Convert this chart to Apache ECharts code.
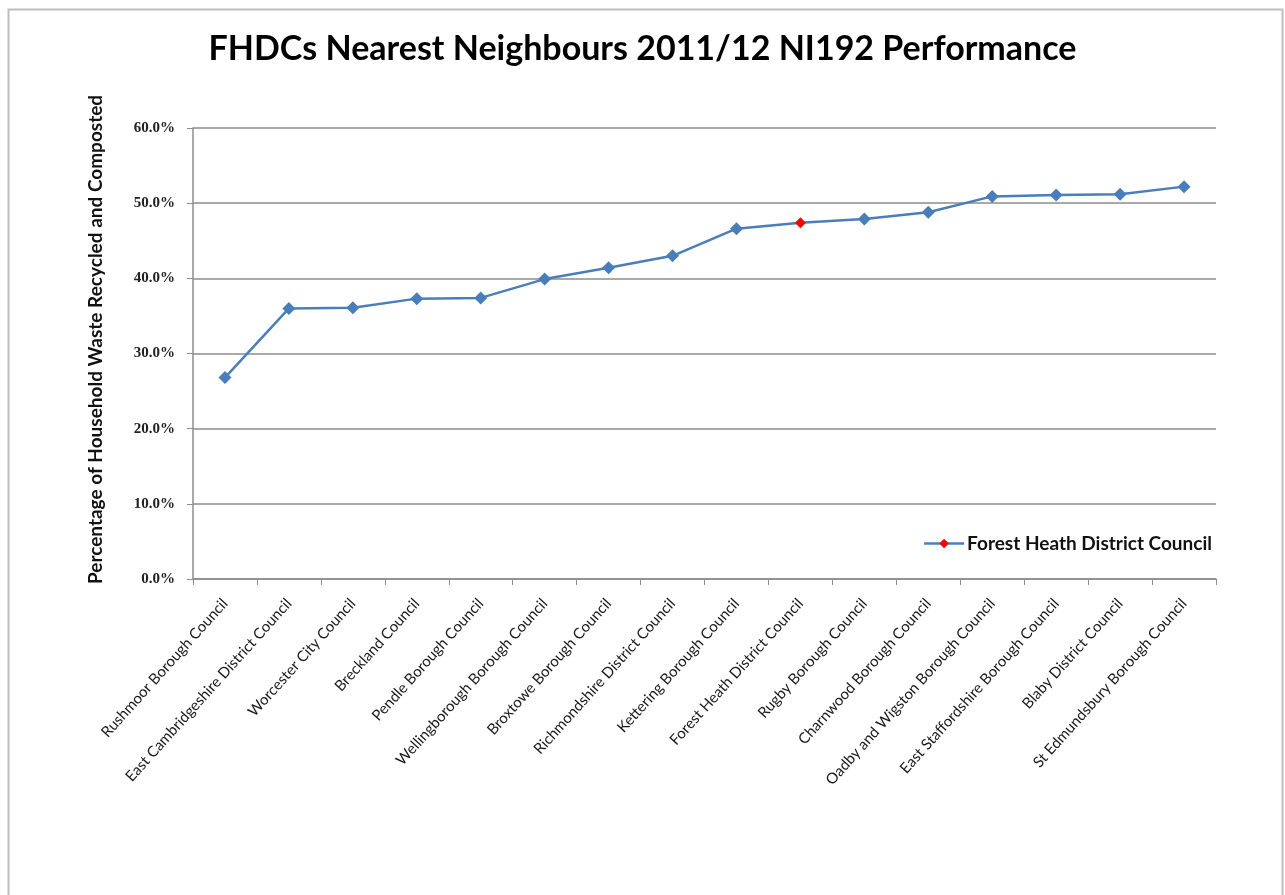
<!DOCTYPE html>
<html>
<head>
<meta charset="utf-8">
<script src="https://cdn.jsdelivr.net/npm/echarts@6/dist/echarts.min.js"></script>
<style>html,body{margin:0;padding:0;background:#fff;}#c{width:1285px;height:895px;}</style>
</head>
<body>
<div id="c"></div>
<script>
const categories = [
  "Rushmoor Borough Council",
  "East Cambridgeshire District Council",
  "Worcester City Council",
  "Breckland Council",
  "Pendle Borough Council",
  "Wellingborough Borough Council",
  "Broxtowe Borough Council",
  "Richmondshire District Council",
  "Kettering Borough Council",
  "Forest Heath District Council",
  "Rugby Borough Council",
  "Charnwood Borough Council",
  "Oadby and Wigston Borough Council",
  "East Staffordshire Borough Council",
  "Blaby District Council",
  "St Edmundsbury Borough Council"
];
const values = [26.8, 36.0, 36.1, 37.3, 37.4, 39.9, 41.4, 43.0, 46.6, 47.4, 47.9, 48.8, 50.9, 51.1, 51.2, 52.2];
const highlightName = "Forest Heath District Council";
const yTicks = [0, 10, 20, 30, 40, 50, 60];
const titleText = "FHDCs Nearest Neighbours 2011/12 NI192 Performance";
const yAxisTitle = "Percentage of Household Waste Recycled and Composted";

const blue = '#4a7ebb';
const red = '#ff0000';
const chart = echarts.init(document.getElementById('c'), null, {renderer: 'canvas'});
const seriesData = values.map((v, i) => categories[i] === highlightName
  ? {value: v, itemStyle: {color: red}, symbolSize: 11}
  : {value: v});

chart.setOption({
  backgroundColor: '#fff',
  animation: false,
  graphic: [{
    type: 'rect', left: 6, top: 7, shape: {width: 1274, height: 900},
    style: {fill: 'none', stroke: '#bdbdbd', lineWidth: 2}, silent: true
  }],
  title: {
    text: titleText, left: 'center', top: 27,
    textStyle: {fontFamily: 'Lato', fontWeight: 'bold', fontSize: 34, color: '#000'}
  },
  legend: {
    right: 68, top: 529, itemWidth: 40, itemHeight: 12, itemGap: 4,
    data: [{name: highlightName, itemStyle: {color: red}, lineStyle: {color: blue, width: 2.5}}],
    textStyle: {fontFamily: 'Lato', fontWeight: 'bold', fontSize: 19, color: '#111', padding: [0, 0, 0, -2]}
  },
  grid: {left: 193, right: 69, top: 128, bottom: 316, containLabel: false},
  xAxis: {
    type: 'category', data: categories, boundaryGap: true,
    axisLine: {lineStyle: {color: '#8c8c8c', width: 1.5}},
    axisTick: {show: true, length: 6, alignWithLabel: false, lineStyle: {color: '#8c8c8c'}},
    axisLabel: {rotate: 48, interval: 0, margin: 22, fontFamily: 'Lato', fontSize: 15, color: '#1a1a1a'}
  },
  yAxis: {
    type: 'value', min: 0, max: 60, interval: 10,
    name: yAxisTitle, nameLocation: 'middle', nameGap: 88, nameRotate: 90,
    nameTextStyle: {fontFamily: 'Lato', fontWeight: 'bold', fontSize: 19, color: '#111', padding: [0, 0, 0, 28]},
    axisLine: {show: true, lineStyle: {color: '#8c8c8c', width: 1.5}},
    axisTick: {show: true, length: 6, lineStyle: {color: '#8c8c8c'}},
    axisLabel: {margin: 18, fontFamily: 'Liberation Serif', fontWeight: 'bold', fontSize: 15, color: '#222',
      formatter: v => v.toFixed(1) + '%'},
    splitLine: {lineStyle: {color: '#8c8c8c', width: 1.5}}
  },
  series: [{
    name: highlightName, type: 'line', data: seriesData,
    symbol: 'diamond', symbolSize: 13,
    lineStyle: {color: blue, width: 2.5},
    itemStyle: {color: blue}
  }]
});
</script>
</body>
</html>
